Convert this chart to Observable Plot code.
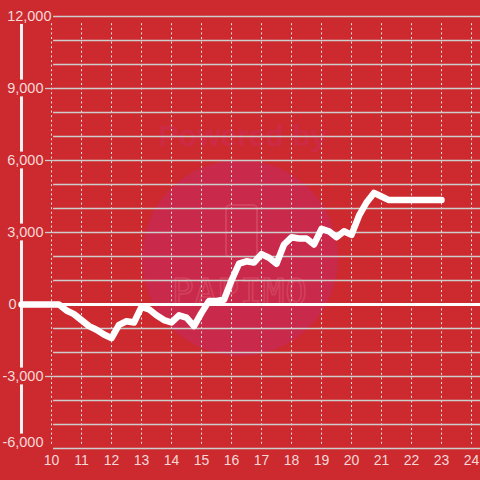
<!DOCTYPE html>
<html><head><meta charset="utf-8">
<script src="https://cdn.jsdelivr.net/npm/d3@7"></script>
<script src="https://cdn.jsdelivr.net/npm/@observablehq/plot@0.6"></script>
<style>
body{margin:0;background:#cc2a2f;font-family:"Liberation Sans",Arial,sans-serif}
#wrap{position:relative;width:480px;height:480px;overflow:hidden}
#wm{position:absolute;left:0;top:0}
#chart{position:absolute;left:0;top:0}
</style></head>
<body>
<div id="wrap">
<svg id="wm" width="480" height="480">
  <circle cx="240" cy="258" r="98" fill="#c9294a"/>
  <text x="243" y="146" text-anchor="middle" font-family="Liberation Sans" font-weight="bold" font-size="30" fill="#cd2b4a" opacity="0.85">Powered by</text>
  <rect x="226" y="205" width="31" height="52" rx="4" fill="none" stroke="#d9506a" stroke-width="2" opacity="0.6"/>
  <text x="240" y="304" text-anchor="middle" font-family="DejaVu Sans Mono" font-size="36" fill="none" stroke="#d9506a" stroke-width="1.6" opacity="0.6" letter-spacing="1">PAPIMO</text>
</svg>
<div id="chart"></div>
</div>
<script>
const xValues = [9, 10, 10.25, 10.5, 10.75, 11, 11.25, 11.5, 11.75, 12, 12.25, 12.5, 12.75, 13, 13.25, 13.5, 13.75, 14, 14.25, 14.5, 14.75, 15, 15.25, 15.5, 15.75, 16, 16.25, 16.5, 16.75, 17, 17.25, 17.5, 17.75, 18, 18.25, 18.5, 18.75, 19, 19.25, 19.5, 19.75, 20, 20.25, 20.5, 20.75, 21, 21.25, 21.5, 22, 22.5, 23];
const seriesValues = [0, 0, 0, -250, -400, -650, -900, -1050, -1250, -1400, -850, -700, -750, -100, -200, -450, -650, -750, -450, -550, -900, -350, 150, 150, 200, 1000, 1700, 1800, 1750, 2100, 1950, 1700, 2500, 2800, 2750, 2750, 2500, 3150, 3050, 2800, 3050, 2900, 3700, 4250, 4650, 4500, 4350, 4350, 4350, 4350, 4350];
const xTicks = [10, 11, 12, 13, 14, 15, 16, 17, 18, 19, 20, 21, 22, 23, 24];
const yGrid = [12000, 11000, 10000, 9000, 8000, 7000, 6000, 5000, 4000, 3000, 2000, 1000, -1000, -2000, -3000, -4000, -5000, -6000];
const yLabelTicks = [12000, 9000, 6000, 3000, 0, -3000, -6000];

const data = xValues.map((x, i) => ({x, v: seriesValues[i]}));
const xStart = xValues[0];
const fmt = d3.format(",");

// axis line segments broken around labels (except 0)
const breaks = yLabelTicks.filter(v => v !== 0);
const segs = [];
for (let i = 0; i < breaks.length - 1; i++) {
  const top = breaks[i], bot = breaks[i + 1];
  segs.push({x: xStart, y1: top === 12000 ? top - 330 : top - 350, y2: bot === -6000 ? bot + 600 : bot + 350});
}

const txt = "#f4d8d8";
const plot = Plot.plot({
  width: 480, height: 480,
  marginLeft: 21, marginRight: 0, marginTop: 16, marginBottom: 32,
  x: {domain: [xStart, 24.3], label: null},
  y: {domain: [-6000, 12000], label: null},
  style: {background: "transparent", color: txt, fontSize: "14px", fontFamily: "Liberation Sans, Arial, sans-serif", overflow: "visible"},
  marks: [
    Plot.ruleX(xTicks, {y1: 11700, y2: -5880, stroke: "#e4e4e4", strokeWidth: 1, strokeDasharray: "2,2.6"}),
    Plot.ruleY(yGrid, {x1: 10.07, x2: 24.3, stroke: "#cdcdcd", strokeWidth: 1.3}),
    Plot.axisY([9000, 6000, 3000, -3000], {anchor: "left", tickSize: 8, dx: 32, tickFormat: () => "", label: null, stroke: "#cdcdcd", strokeWidth: 1.3}),
    Plot.ruleX(segs, {x: "x", y1: "y1", y2: "y2", stroke: "#f2f2f2", strokeWidth: 3}),
    Plot.ruleY([0], {stroke: "white", strokeWidth: 3}),
    Plot.line(data, {x: "x", y: "v", stroke: "white", strokeWidth: 6.5, strokeLinejoin: "round"}),
    Plot.axisX(xTicks, {tickSize: 0, tickPadding: 7, tickFormat: d => String(d), label: null, fill: txt, fontSize: 14}),
    Plot.text(yLabelTicks.filter(v => v !== 0 && v !== 12000 && v !== -6000), {y: d => d, text: d => fmt(d).replace("−", "-"), frameAnchor: "left", textAnchor: "end", dx: 22, fill: txt, fontSize: 14.5}),
    Plot.text([12000], {y: d => d, text: d => fmt(d), frameAnchor: "left", textAnchor: "end", dx: 30, fill: txt, fontSize: 14.5}),
    Plot.text([-6000], {y: d => d, text: d => fmt(d).replace("−", "-"), frameAnchor: "left", textAnchor: "end", dx: 22, dy: -6, fill: txt, fontSize: 14.5}),
    Plot.text([0], {y: d => d, text: d => fmt(d), frameAnchor: "left", textAnchor: "end", dx: -5, fill: txt, fontSize: 14.5})
  ]
});
document.getElementById("chart").appendChild(plot);
</script>
</body></html>
